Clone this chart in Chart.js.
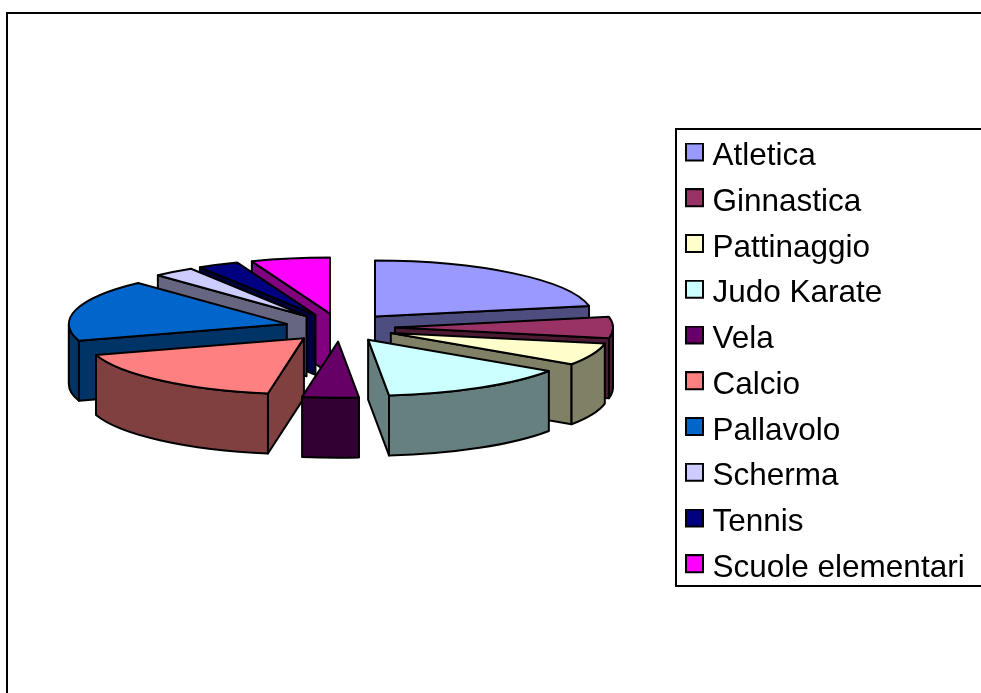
<!DOCTYPE html>
<html>
<head>
<meta charset="utf-8">
<title>Sport</title>
<script src="https://cdn.jsdelivr.net/npm/chart.js@4"></script>
<style>
  html, body { margin: 0; background: #fff; }
  canvas { display: block; }
</style>
</head>
<body>
<canvas id="myChart" width="981" height="693"></canvas>
<script>
var categories = ['Atletica', 'Ginnastica', 'Pattinaggio', 'Judo Karate', 'Vela', 'Calcio', 'Pallavolo', 'Scherma', 'Tennis', 'Scuole elementari'];
var values = [79, 22, 23, 50.5, 15, 63, 64.5, 11, 11, 21];
var colors = ['#9999ff', '#993366', '#ffffcc', '#ccffff', '#660066', '#ff8080', '#0066cc', '#ccccff', '#000080', '#ff00ff'];
var wallColors = ['#4d4d80', '#4d1a33', '#808066', '#668080', '#330033', '#804040', '#003366', '#666680', '#000040', '#800080'];

// look of the tilted pie
var pieY = 327.5;
var squash = 0.257;
var explode = 55;
var depth = 60;

function stroke(ctx) {
  ctx.strokeStyle = '#000';
  ctx.lineWidth = 2;
  ctx.lineJoin = 'round';
  ctx.stroke();
}

// side of a slice along one cut, from the tip to the rim
function drawCut(ctx, vx, vy, r, angle, fill) {
  var px = vx + Math.cos(angle) * r;
  var py = vy + Math.sin(angle) * r * squash;
  ctx.beginPath();
  ctx.moveTo(vx, vy);
  ctx.lineTo(px, py);
  ctx.lineTo(px, py + depth);
  ctx.lineTo(vx, vy + depth);
  ctx.closePath();
  ctx.fillStyle = fill;
  ctx.fill();
  stroke(ctx);
}

// legend square, sits above the middle of its canvas so it lines up with the text
function swatch(color) {
  var c = document.createElement('canvas');
  c.width = 20;
  c.height = 28;
  var g = c.getContext('2d');
  g.fillStyle = color;
  g.fillRect(1, 1, 17, 17);
  g.strokeStyle = '#000';
  g.lineWidth = 2;
  g.strokeRect(1, 1, 17, 17);
  return c;
}

var pie3d = {
  id: 'pie3d',
  beforeDatasetsDraw: function (chart) {
    var ctx = chart.ctx;
    var arcs = chart.getDatasetMeta(0).data.map(function (arc, i) {
      return { arc: arc, i: i, mid: (arc.startAngle + arc.endAngle) / 2 };
    });
    // back slices first
    arcs.sort(function (a, b) { return Math.sin(a.mid) - Math.sin(b.mid); });

    arcs.forEach(function (item) {
      var arc = item.arc;
      var r = arc.outerRadius;
      var s = arc.startAngle;
      var e = arc.endAngle;
      var vx = arc.x + Math.cos(item.mid) * explode;
      var vy = pieY + Math.sin(item.mid) * explode * squash;
      var wall = wallColors[item.i];

      // only the cuts that face the viewer
      if (Math.cos(s) < 0) {
        drawCut(ctx, vx, vy, r, s, wall);
      }
      if (Math.cos(e) > 0) {
        drawCut(ctx, vx, vy, r, e, wall);
      }

      // round wall, front half only
      var a = Math.max(s, 0);
      var b = Math.min(e, Math.PI);
      if (a < b) {
        ctx.beginPath();
        ctx.ellipse(vx, vy, r, r * squash, 0, a, b);
        ctx.ellipse(vx, vy + depth, r, r * squash, 0, b, a, true);
        ctx.closePath();
        ctx.fillStyle = wall;
        ctx.fill();
        stroke(ctx);
      }

      // top face
      ctx.save();
      ctx.translate(vx, vy);
      ctx.scale(1, squash);
      ctx.translate(-arc.x, -arc.y);
      arc.draw(ctx);
      ctx.restore();

      ctx.beginPath();
      ctx.moveTo(vx, vy);
      ctx.ellipse(vx, vy, r, r * squash, 0, s, e);
      ctx.closePath();
      stroke(ctx);
    });
    return false;
  },
  afterLayout: function (chart) {
    // legend sits on the right, running off the edge of the page
    var legend = chart.legend;
    legend.left = 679;
    legend.top = 126.5;
    legend.right = legend.left + legend.width;
    legend.bottom = legend.top + legend.height;
  },
  beforeDraw: function (chart) {
    var ctx = chart.ctx;
    ctx.save();
    ctx.strokeStyle = '#000';
    ctx.lineWidth = 2;
    // outer frame, only left and top show
    ctx.beginPath();
    ctx.moveTo(7, 693);
    ctx.lineTo(7, 13);
    ctx.lineTo(981, 13);
    ctx.stroke();
    // legend frame
    ctx.beginPath();
    ctx.moveTo(981, 129);
    ctx.lineTo(676, 129);
    ctx.lineTo(676, 586);
    ctx.lineTo(981, 586);
    ctx.stroke();
    ctx.restore();
  }
};

var chart = new Chart(document.getElementById('myChart').getContext('2d'), {
  type: 'pie',
  data: {
    labels: categories,
    datasets: [
      {
        data: values,
        backgroundColor: colors,
        borderWidth: 0,
        radius: 218
      }
    ]
  },
  options: {
    responsive: false,
    animation: false,
    layout: {
      padding: { right: 301 }
    },
    plugins: {
      tooltip: { enabled: false },
      legend: {
        position: 'chartArea',
        align: 'start',
        labels: {
          color: '#000',
          font: { family: '"Liberation Sans", Arial, sans-serif', size: 31.5 },
          padding: 14.25,
          usePointStyle: true,
          boxWidth: 3.5,
          generateLabels: function (chart) {
            return Chart.overrides.pie.plugins.legend.labels.generateLabels(chart).map(function (item, i) {
              item.pointStyle = swatch(colors[i]);
              return item;
            });
          }
        }
      }
    }
  },
  plugins: [pie3d]
});
</script>
</body>
</html>
